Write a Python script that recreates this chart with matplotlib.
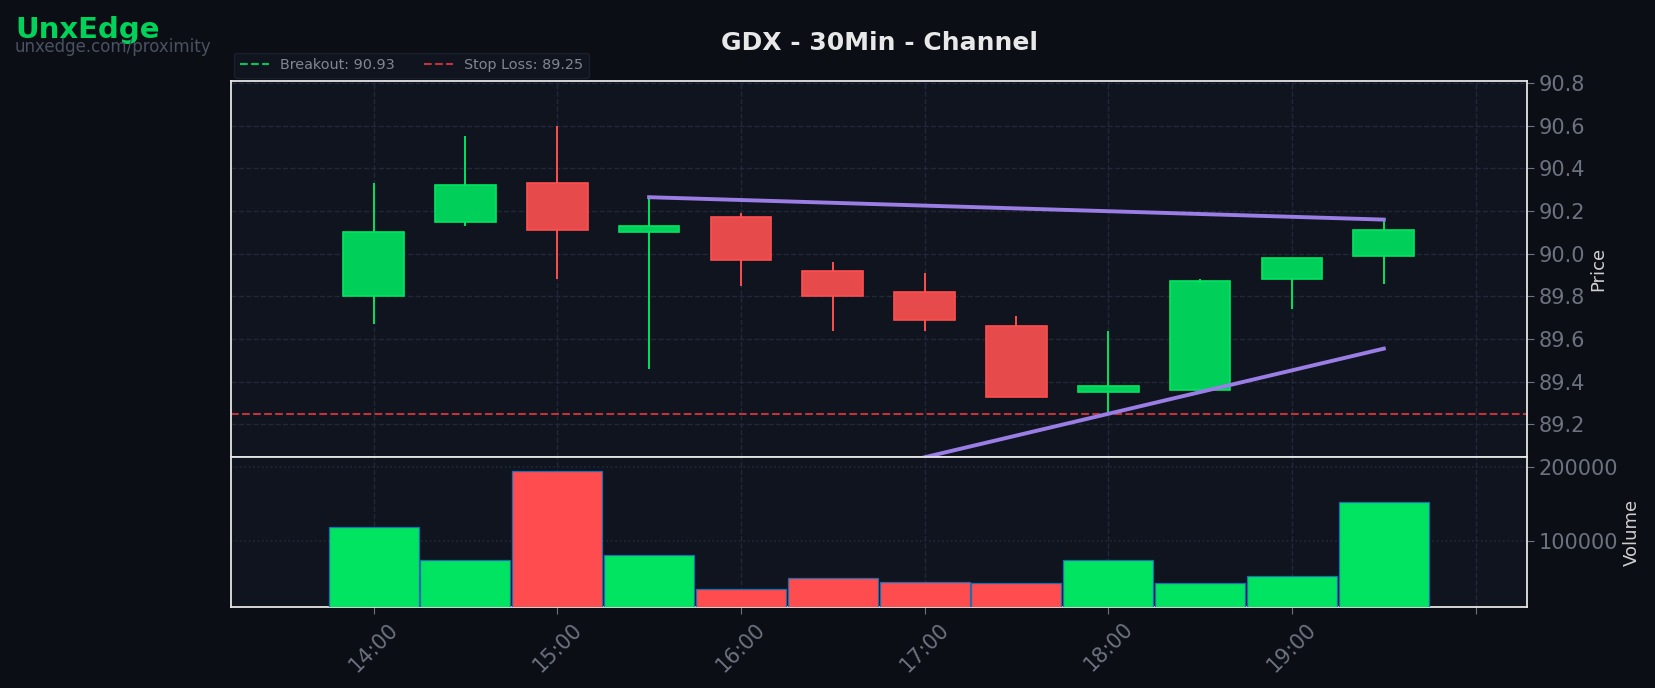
import matplotlib
matplotlib.use('Agg')
import matplotlib.pyplot as plt
import numpy as np

# candle data (30 min bars)
times = ['14:00', '14:30', '15:00', '15:30', '16:00', '16:30',
         '17:00', '17:30', '18:00', '18:30', '19:00', '19:30']
opens = [89.80, 90.15, 90.33, 90.10, 90.17, 89.92, 89.82, 89.66, 89.35, 89.36, 89.88, 89.99]
highs = [90.33, 90.55, 90.60, 90.26, 90.19, 89.96, 89.91, 89.71, 89.64, 89.88, 89.98, 90.16]
lows = [89.67, 90.13, 89.88, 89.46, 89.85, 89.64, 89.64, 89.33, 89.26, 89.36, 89.74, 89.86]
closes = [90.10, 90.32, 90.11, 90.13, 89.97, 89.80, 89.69, 89.33, 89.38, 89.87, 89.98, 90.11]
volumes = [119000, 75000, 194000, 81000, 36000, 50500, 45000, 43500, 75000, 43500, 53000, 153000]

# levels
breakout = 90.93
stop_loss = 89.25
upper_channel = (['15:30', '19:30'], [90.265, 90.16])
lower_channel = (['15:30', '19:30'], [88.74, 89.555])

xtick_labels = ['14:00', '15:00', '16:00', '17:00', '18:00', '19:00', '']
xtick_hours = [14, 15, 16, 17, 18, 19, 20]


def to_hours(t):
    h, m = t.split(':')
    return int(h) + int(m) / 60.0


x = np.array([to_hours(t) for t in times])
o = np.array(opens)
c = np.array(closes)
up = c >= o

# colours
fig_bg = '#0b0e15'
ax_bg = '#10141f'
green = '#00cf5a'
green_edge = '#00e463'
red = '#e64a4a'
red_edge = '#ff4f4f'
vol_green = '#00e462'
vol_red = '#ff4d4f'
purple = '#9a7ee6'
grid_c = '#222838'
tick_c = '#6c7280'
spine_c = '#e6e6e6'

fig = plt.figure(figsize=(16.55, 6.88), dpi=100, facecolor=fig_bg)
ax = fig.add_axes([0.1396, 0.3358, 0.7831, 0.5465])
axv = fig.add_axes([0.1396, 0.1177, 0.7831, 0.2181], sharex=ax)

for a in (ax, axv):
    a.set_facecolor(ax_bg)
    for s in a.spines.values():
        s.set_color(spine_c)
        s.set_linewidth(1.3)
    a.yaxis.tick_right()
    a.yaxis.set_label_position('right')
    a.tick_params(colors=tick_c, labelsize=15, length=5)
    a.set_axisbelow(True)

# price panel
ax.grid(True, color=grid_c, linestyle='--', linewidth=1)
ax.vlines(x[up], np.array(lows)[up], np.array(highs)[up], color=green_edge, linewidth=1.4)
ax.vlines(x[~up], np.array(lows)[~up], np.array(highs)[~up], color=red_edge, linewidth=1.4)
body_w = 0.33
ax.bar(x[up], (c - o)[up], bottom=o[up], width=body_w, color=green,
       edgecolor=green_edge, linewidth=1.2, zorder=3)
ax.bar(x[~up], (o - c)[~up], bottom=c[~up], width=body_w, color=red,
       edgecolor=red_edge, linewidth=1.2, zorder=3)

ax.axhline(breakout, color='#00c853', linestyle='--', linewidth=1.5, label=f'Breakout: {breakout:.2f}')
ax.axhline(stop_loss, color='#e0393e', linestyle='--', linewidth=1.5, alpha=0.85,
           label=f'Stop Loss: {stop_loss:.2f}')
ax.plot([to_hours(t) for t in upper_channel[0]], upper_channel[1], color=purple, linewidth=2.8, zorder=4)
ax.plot([to_hours(t) for t in lower_channel[0]], lower_channel[1], color=purple, linewidth=2.8, zorder=4)

ax.set_ylim(89.047, 90.81)
ax.set_xlim(13.224, 20.28)
ax.set_yticks([89.2, 89.4, 89.6, 89.8, 90.0, 90.2, 90.4, 90.6, 90.8])
ax.yaxis.set_major_formatter(matplotlib.ticker.FormatStrFormatter('%.1f'))
ax.set_ylabel('Price', color='#d0d0d0', fontsize=13, labelpad=3)
ax.tick_params(axis='x', labelbottom=False, length=0)
ax.set_title('GDX - 30Min - Channel', color='#e8e8e8', fontsize=18, fontweight='bold', pad=22)

leg = ax.legend(loc='lower left', bbox_to_anchor=(0.0, 1.0), ncol=2, fontsize=10.4,
                frameon=True, facecolor='#121621', edgecolor='#1e2330', labelcolor='#80868f',
                borderaxespad=0.2, handlelength=2.0, columnspacing=2.0)

# volume panel
axv.grid(True, axis='x', color=grid_c, linestyle='--', linewidth=1)
axv.grid(True, axis='y', color=grid_c, linestyle=':', linewidth=1.2)
vol_colors = [vol_green if u else vol_red for u in up]
axv.bar(x, volumes, width=0.49, color=vol_colors, edgecolor='#1f6fb0', linewidth=0.9, zorder=3)
axv.set_ylim(11700, 213500)
axv.set_yticks([100000, 200000])
axv.set_yticklabels(['100000', '200000'])
axv.set_ylabel('Volume', color='#d0d0d0', fontsize=13, labelpad=3)
axv.set_xticks(xtick_hours)
axv.set_xticklabels(xtick_labels, rotation=45, ha='center')

# branding
fig.text(0.009, 0.957, 'UnxEdge', color='#00d25a', fontsize=21, fontweight='bold', va='center')
fig.text(0.009, 0.932, 'unxedge.com/proximity', color='#4a5160', fontsize=12, va='center')

fig.savefig('out.png', dpi=100, facecolor=fig_bg)
